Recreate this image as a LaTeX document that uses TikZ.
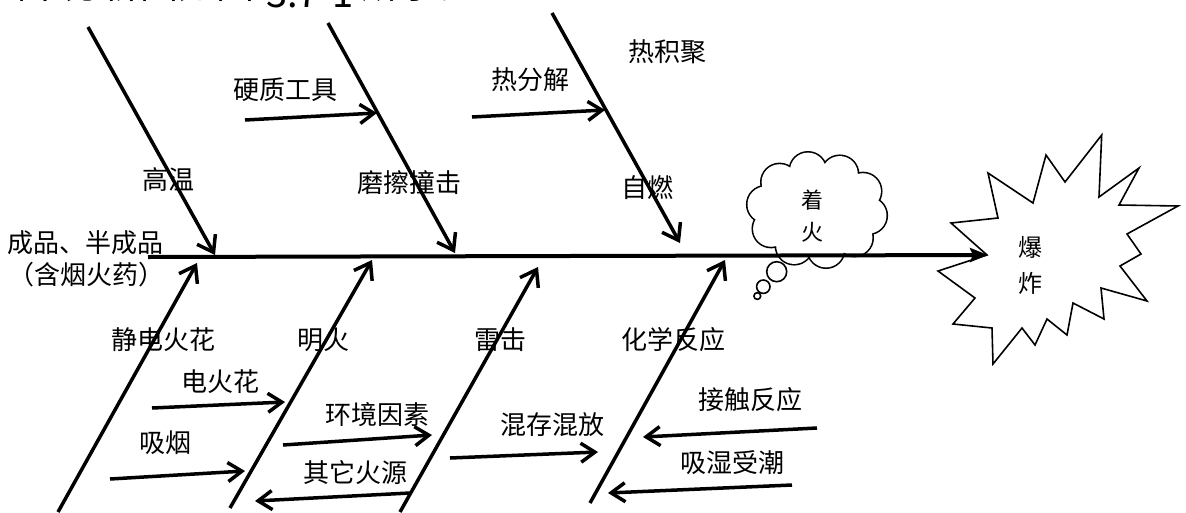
\documentclass[tikz,border=0pt]{standalone}
\usepackage{fontspec}
\setmainfont{Noto Sans CJK SC}
\usetikzlibrary{arrows.meta}
\begin{document}
\begin{tikzpicture}[x=1pt,y=-1pt,
  lbl/.style={font=\fontsize{26}{30}\selectfont, inner sep=0pt, anchor=center},
  toptext/.style={font=\fontsize{38}{40}\selectfont, inner sep=0pt, anchor=base west},
  bone/.style={line width=3.5pt, -{Straight Barb[length=15pt,width=21pt]}},
  twig/.style={line width=3.5pt, -{Straight Barb[length=14pt,width=19pt]}},
  spine/.style={line width=4pt, -{Stealth[length=18pt,width=14pt,inset=3pt]}},
  thin/.style={line width=1.6pt, draw=black, fill=white},
]
\useasboundingbox (0,0) rectangle (1186,512);
\clip (0,0) rectangle (1186,512);

% cut-off caption line at the top
\node[toptext] (cap1) at (-11.5,-2) {因果分析图如图};
\node[toptext] (cap2) at (266,7) {3.7-1};
\node[toptext] (cap3) at (361,-2) {所示。};

% thought cloud 着火 (union of puffs)
\coordinate (fire) at (817,210);
\foreach \k in {0,...,9}
  \draw[line width=3.2pt] ({817+52*cos(\k*36+8)},{210+40*sin(\k*36+8)}) circle[radius=18pt];
\foreach \k in {0,...,9}
  \fill[white] ({817+52*cos(\k*36+8)},{210+40*sin(\k*36+8)}) circle[radius=18pt];
\fill[white] (fire) ellipse[x radius=54pt, y radius=42pt];
\node[align=center, inner sep=0pt, font=\fontsize{22}{32}\selectfont] (fireText) at (812,216) {着\\火};
\node[circle, thin, minimum size=20pt, inner sep=0pt] (bub1) at (776.7,271.7) {};
\node[circle, thin, minimum size=13.4pt, inner sep=0pt] (bub2) at (763.3,286.7) {};
\node[circle, thin, minimum size=6.8pt, inner sep=0pt] (bub3) at (757.3,296) {};

% explosion
\draw[thin, line join=miter]
  (1101.7,135) -- (1099,197) -- (1139,168) -- (1119,205) -- (1178,206) -- (1127,234)
  -- (1141,254) -- (1120,266) -- (1147,301) -- (1101,288) -- (1104,319) -- (1073,303)
  -- (1067,335) -- (1047,319) -- (1035,345) -- (1022,328) -- (993,364) -- (992,328)
  -- (953,324) -- (975,298) -- (938,271) -- (987,255) -- (951,223) -- (998,218)
  -- (988,173) -- (1033,203) -- (1046,155) -- (1065,182) -- cycle;
\node[align=center, inner sep=0pt, font=\fontsize{24}{36}\selectfont] (boom) at (1030,265) {爆\\炸};

% spine
\coordinate (sp0) at (148,257);
\coordinate (sp1) at (988,255);
\draw[spine] (sp0) -- (sp1);

% upper bones
\coordinate (a1) at (88,27);   \coordinate (a1t) at (215,255);
\coordinate (a2) at (328,23);  \coordinate (a2t) at (455,253);
\coordinate (a3) at (552,13);  \coordinate (a3t) at (680,243);
\draw[bone] (a1) -- (a1t);
\draw[bone] (a2) -- (a2t);
\draw[bone] (a3) -- (a3t);

\coordinate (t1) at (245,120); \coordinate (t1t) at (377,113);
\coordinate (t2) at (472,117); \coordinate (t2t) at (605,110);
\draw[twig] (t1) -- (t1t);
\draw[twig] (t2) -- (t2t);

% lower bones
\coordinate (b1) at (58,512);  \coordinate (b1t) at (197,263);
\coordinate (b2) at (230,508); \coordinate (b2t) at (372,260);
\coordinate (b3) at (400,512); \coordinate (b3t) at (538,267);
\coordinate (b4) at (590,503); \coordinate (b4t) at (725,260);
\draw[bone] (b1) -- (b1t);
\draw[bone] (b2) -- (b2t);
\draw[bone] (b3) -- (b3t);
\draw[bone] (b4) -- (b4t);

\coordinate (u1) at (152,408); \coordinate (u1t) at (285,402);
\coordinate (u2) at (110,479); \coordinate (u2t) at (245,471);
\coordinate (u3) at (283,445); \coordinate (u3t) at (432,435);
\coordinate (u4) at (410,493); \coordinate (u4t) at (255,501);
\coordinate (u5) at (450,458); \coordinate (u5t) at (598,452);
\coordinate (u6) at (817,428); \coordinate (u6t) at (643,437);
\coordinate (u7) at (792,485); \coordinate (u7t) at (608,493);
\draw[twig] (u1) -- (u1t);
\draw[twig] (u2) -- (u2t);
\draw[twig] (u3) -- (u3t);
\draw[twig] (u4) -- (u4t);
\draw[twig] (u5) -- (u5t);
\draw[twig] (u6) -- (u6t);
\draw[twig] (u7) -- (u7t);

% labels
\node[lbl] (lGaowen) at (168,180) {高温};
\node[lbl] (lYingzhi) at (285,90) {硬质工具};
\node[lbl] (lMoca) at (409,183) {磨擦撞击};
\node[lbl] (lRefenjie) at (530,80) {热分解};
\node[lbl] (lRejiju) at (667,52) {热积聚};
\node[lbl] (lZiran) at (647,188) {自燃};
\node[lbl] (lChengpin) at (86,243) {成品、半成品};
\node[lbl] (lHan) at (87,275) {（含烟火药）};
\node[lbl] (lJingdian) at (163,340) {静电火花};
\node[lbl] (lMinghuo) at (323,340) {明火};
\node[lbl] (lDianhuohua) at (220,382) {电火花};
\node[lbl] (lXiyan) at (165,443) {吸烟};
\node[lbl] (lHuanjing) at (377,415) {环境因素};
\node[lbl] (lQita) at (355,473) {其它火源};
\node[lbl] (lLeiji) at (500,340) {雷击};
\node[lbl] (lHuaxue) at (673,340) {化学反应};
\node[lbl] (lHuncun) at (552,425) {混存混放};
\node[lbl] (lJiechu) at (750,400) {接触反应};
\node[lbl] (lXishi) at (732,463) {吸湿受潮};
\end{tikzpicture}
\end{document}
